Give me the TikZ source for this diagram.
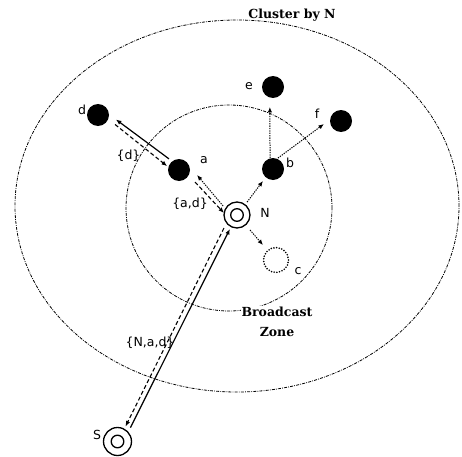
\documentclass[tikz,border=0pt]{standalone}
\usepackage{fontspec}
\usetikzlibrary{arrows.meta}
\newfontfamily\labfont{DejaVu Sans}
\newfontfamily\ttlfont{DejaVu Serif}
\begin{document}
\begin{tikzpicture}[x=1pt,y=1pt,
  blk/.style={circle,fill=black,minimum size=22pt,inner sep=0pt},
  hub/.style={circle,draw,line width=1.3pt,minimum size=#1,inner sep=0pt,
    path picture={\draw[line width=1.3pt] (path picture bounding box.center) circle (6.3pt);}},
  hub/.default=26pt,
  ghost/.style={circle,draw,line width=1.8pt,dash pattern=on 0pt off 2.7pt,line cap=round,minimum size=25pt,inner sep=0pt},
  lab/.style={font=\labfont\fontsize{12.5}{14}\selectfont,inner sep=0pt},
  ttl/.style={font=\ttlfont\bfseries\fontsize{12.5}{20}\selectfont,inner sep=1pt,align=center},
  zone/.style={line width=0.8pt,dash pattern=on 3pt off 1.2pt on 0.8pt off 1.2pt},
  req/.style={line width=1.2pt,-{Latex[length=5.5pt,width=4.5pt]}},
  rep/.style={line width=1.1pt,dash pattern=on 4pt off 2.5pt,-{Latex[length=5.5pt,width=4.5pt]}},
  bc/.style={line width=1pt,dash pattern=on 1.3pt off 1.1pt,-{Latex[length=5.5pt,width=4.5pt]}}
]
\useasboundingbox (0,0) rectangle (462,456);
% zones
\draw[zone] (237,250) ellipse [x radius=222, y radius=186];
\draw[zone] (229,248) circle (103);
% nodes
\node[blk] (d) at (98,341) {};
\node[blk] (a) at (179,286) {};
\node[blk] (e) at (273,369) {};
\node[blk] (f) at (341,335) {};
\node[blk] (b) at (273,287) {};
\node[ghost] (c) at (276,196) {};
\node[hub] (N) at (237,241) {};
\node[hub=28pt] (S) at (117.5,14.5) {};
% labels
\node[lab] (ld) at (82,346) {d};
\node[lab] (la) at (204,296) {a};
\node[lab] (le) at (249,370) {e};
\node[lab] (lf) at (317,342) {f};
\node[lab] (lb) at (290,293) {b};
\node[lab] (lN) at (265,243) {N};
\node[lab] (lc) at (298,185) {c};
\node[lab] (lS) at (97,21) {S};
\node[lab] (ldd) at (128.5,300) {\{d\}};
\node[lab] (lad) at (190,252) {\{a,d\}};
\node[lab] (lnad) at (150,113) {\{N,a,d\}};
\node[ttl] (cl) at (292,441) {Cluster by N};
\node[ttl,fill=white] (bz) at (277,134) {Broadcast\\Zone};
% connectors
\draw[req] ([shift={(132:15pt)}]a.center) -- ([shift={(-14:18.5pt)}]d.center);
\draw[rep] ([shift={(-29:19.5pt)}]d.center) -- ([shift={(162:12.5pt)}]a.center);
\draw[bc]  ([shift={(147:16.6pt)}]N.center) -- ([shift={(-15.5:18.7pt)}]a.center);
\draw[rep] ([shift={(-37:20pt)}]a.center) -- ([shift={(171:13.2pt)}]N.center);
\draw[req] ([shift={(47:19pt)}]S.center) -- ([shift={(243:15.7pt)}]N.center);
\draw[rep] ([shift={(225:18.4pt)}]N.center) -- ([shift={(62:17pt)}]S.center);
\draw[bc]  ([shift={(52:16.4pt)}]N.center) -- ([shift={(230:15.6pt)}]b.center);
\draw[bc]  ([shift={(105:11.4pt)}]b.center) -- ([shift={(261:20.2pt)}]e.center);
\draw[bc]  ([shift={(65.6:12pt)}]b.center) -- ([shift={(190:17.3pt)}]f.center);
\draw[bc]  ([shift={(-49:19.8pt)}]N.center) -- ([shift={(131:19.8pt)}]c.center);
\end{tikzpicture}
\end{document}
